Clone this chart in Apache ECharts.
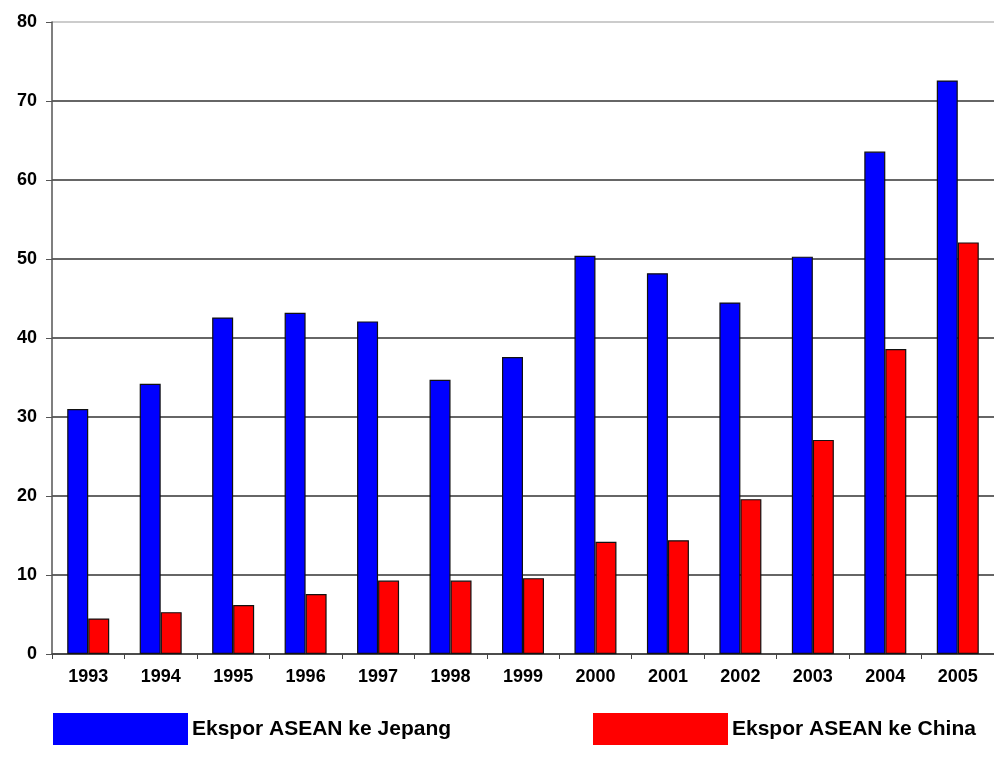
<!DOCTYPE html>
<html>
<head>
<meta charset="utf-8">
<script src="https://cdn.jsdelivr.net/npm/echarts@6/dist/echarts.min.js"></script>
<style>
  html, body { margin: 0; padding: 0; background: #fff; }
  #chart { width: 994px; height: 772px; }
</style>
</head>
<body>
<div id="chart"></div>
<script>
  // data
  const years = ['1993', '1994', '1995', '1996', '1997', '1998', '1999',
                 '2000', '2001', '2002', '2003', '2004', '2005'];
  const eksporJepang = [31.0, 34.2, 42.6, 43.2, 42.1, 34.7, 37.6, 50.4, 48.2, 44.5, 50.3, 63.6, 72.6];
  const eksporChina = [4.5, 5.3, 6.2, 7.6, 9.3, 9.3, 9.6, 14.2, 14.4, 19.6, 27.1, 38.6, 52.1];
  const seriesNames = ['Ekspor ASEAN ke Jepang', 'Ekspor ASEAN ke China'];

  const font = 'Liberation Sans, Arial, sans-serif';
  const chart = echarts.init(document.getElementById('chart'));

  // grid lines: dark, top one lighter
  const gridColors = ['#333', '#333', '#333', '#333', '#333', '#333', '#333', '#333', '#bbb'];

  const legendBase = {
    orient: 'horizontal',
    itemWidth: 135,
    itemHeight: 32,
    icon: 'rect',
    padding: 0,
    top: 713,
    itemStyle: { borderWidth: 0 },
    textStyle: { fontFamily: font, fontSize: 21, fontWeight: 'bold', color: '#000', padding: [0, 0, 0, -1] }
  };

  const option = {
    animation: false,
    backgroundColor: '#fff',
    legend: [
      Object.assign({}, legendBase, { left: 53, data: [seriesNames[0]] }),
      Object.assign({}, legendBase, { left: 593, data: [seriesNames[1]] })
    ],
    grid: { left: 52, top: 22, width: 953, height: 632, containLabel: false },
    xAxis: {
      type: 'category',
      data: years,
      axisLine: { lineStyle: { color: '#444', width: 1.5 } },
      axisTick: { show: true, length: 5, lineStyle: { color: '#444' } },
      axisLabel: {
        color: '#000', fontFamily: font, fontSize: 18, fontWeight: 'bold', margin: 14
      }
    },
    yAxis: {
      type: 'value',
      min: 0,
      max: 80,
      interval: 10,
      axisLine: { show: true, lineStyle: { color: '#555', width: 1.5 } },
      axisTick: { show: true, length: 6, lineStyle: { color: '#555' } },
      axisLabel: {
        color: '#000', fontFamily: font, fontSize: 18, fontWeight: 'bold', margin: 15
      },
      splitLine: { show: true, lineStyle: { color: gridColors, width: 1.5 } }
    },
    series: [
      {
        name: seriesNames[0],
        type: 'bar',
        data: eksporJepang,
        barWidth: 21,
        barGap: '0%',
        itemStyle: { color: '#0000ff', borderColor: '#111', borderWidth: 1.2 }
      },
      {
        name: seriesNames[1],
        type: 'bar',
        data: eksporChina,
        barWidth: 21,
        barGap: '0%',
        itemStyle: { color: '#ff0000', borderColor: '#111', borderWidth: 1.2 }
      }
    ]
  };

  chart.setOption(option);
</script>
</body>
</html>
